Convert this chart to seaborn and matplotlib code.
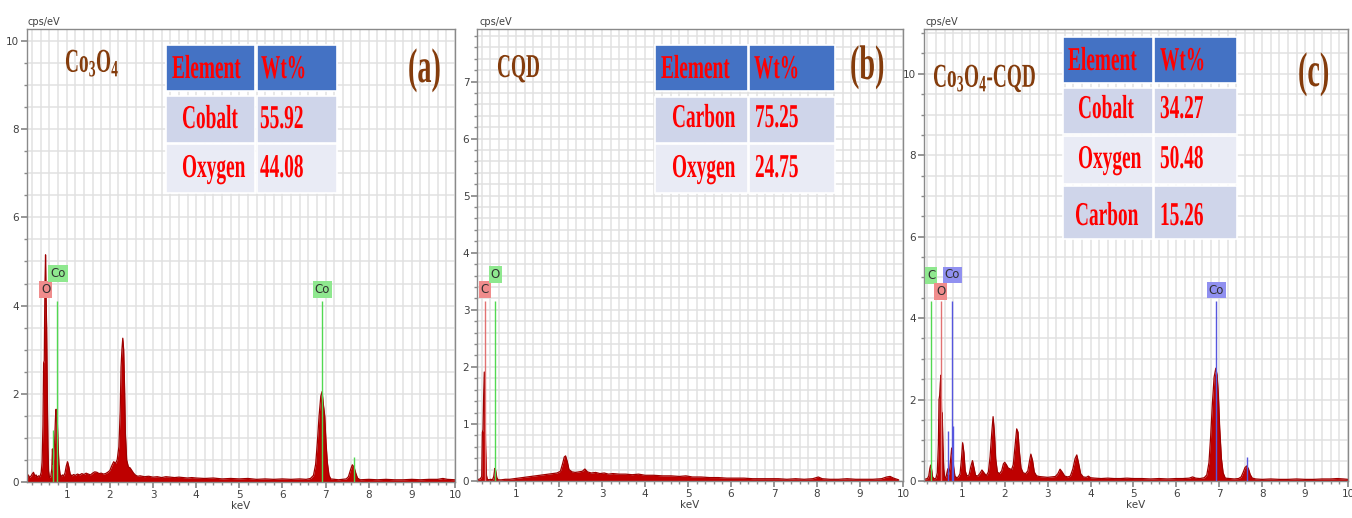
import matplotlib
matplotlib.use("Agg")
import matplotlib.pyplot as plt
import seaborn as sns
from matplotlib import patheffects
from matplotlib.transforms import Affine2D
from matplotlib.patches import Rectangle
from matplotlib.ticker import MultipleLocator

# ---------------- EDS spectra (energy in keV, intensity in cps/eV) ----------------
co3o4_kev = [0.08, 0.11, 0.14, 0.17, 0.20, 0.23, 0.26, 0.29, 0.32, 0.35, 0.38, 0.41, 0.43, 0.45, 0.465,
             0.48, 0.495, 0.51, 0.52, 0.535, 0.55, 0.565, 0.58, 0.60, 0.63, 0.655, 0.67, 0.685, 0.70, 0.72,
             0.74, 0.755, 0.77, 0.785, 0.80, 0.82, 0.845, 0.87, 0.90, 0.93, 0.96, 0.99, 1.02, 1.05, 1.08,
             1.12, 1.16, 1.20, 1.25, 1.30, 1.35, 1.40, 1.45, 1.50, 1.55, 1.60, 1.65, 1.70, 1.75, 1.80,
             1.85, 1.90, 1.95, 2.00, 2.05, 2.09, 2.13, 2.17, 2.21, 2.24, 2.26, 2.28, 2.30, 2.32, 2.34,
             2.36, 2.39, 2.43, 2.47, 2.51, 2.55, 2.60, 2.65, 2.70, 2.80, 2.90, 3.00, 3.10, 3.20, 3.30,
             3.40, 3.50, 3.60, 3.70, 3.80, 3.90, 4.00, 4.20, 4.40, 4.60, 4.80, 5.00, 5.20, 5.40, 5.60,
             5.80, 6.00, 6.20, 6.40, 6.55, 6.65, 6.72, 6.77, 6.81, 6.85, 6.89, 6.92, 6.95, 6.98, 7.01,
             7.04, 7.08, 7.12, 7.20, 7.30, 7.40, 7.48, 7.53, 7.58, 7.62, 7.66, 7.70, 7.74, 7.80, 8.00,
             8.20, 8.40, 8.60, 8.80, 9.00, 9.20, 9.40, 9.60, 9.72, 9.82, 10.0]
co3o4_cps = [0.08, 0.16, 0.10, 0.13, 0.18, 0.22, 0.14, 0.16, 0.11, 0.14, 0.12, 0.22, 0.45, 1.30, 2.70,
             2.75, 4.40, 5.15, 4.30, 3.50, 2.00, 0.80, 0.25, 0.10, 0.12, 0.30, 0.75, 0.40, 0.55, 0.90,
             1.45, 1.65, 1.40, 1.30, 0.85, 0.40, 0.18, 0.12, 0.16, 0.14, 0.20, 0.36, 0.46, 0.34, 0.18,
             0.14, 0.17, 0.15, 0.18, 0.16, 0.19, 0.17, 0.20, 0.18, 0.16, 0.20, 0.23, 0.22, 0.19, 0.20,
             0.18, 0.19, 0.22, 0.26, 0.38, 0.46, 0.42, 0.50, 0.80, 1.60, 2.60, 3.00, 3.26, 3.00, 2.20,
             1.10, 0.50, 0.34, 0.32, 0.26, 0.20, 0.15, 0.13, 0.14, 0.12, 0.13, 0.11, 0.12, 0.10, 0.12,
             0.11, 0.10, 0.11, 0.10, 0.09, 0.10, 0.09, 0.08, 0.09, 0.07, 0.08, 0.07, 0.08, 0.06, 0.07,
             0.06, 0.07, 0.06, 0.07, 0.06, 0.08, 0.15, 0.40, 0.90, 1.50, 1.95, 2.05, 1.75, 1.50, 0.90,
             0.45, 0.15, 0.07, 0.06, 0.05, 0.06, 0.07, 0.12, 0.28, 0.39, 0.34, 0.20, 0.09, 0.05, 0.06,
             0.05, 0.06, 0.05, 0.05, 0.06, 0.05, 0.06, 0.06, 0.08, 0.06, 0.05]

cqd_kev = [0.09, 0.13, 0.17, 0.20, 0.215, 0.23, 0.245, 0.26, 0.275, 0.29, 0.31, 0.33, 0.37, 0.41, 0.45,
           0.48, 0.505, 0.525, 0.55, 0.58, 0.65, 0.75, 0.85, 0.95, 1.05, 1.15, 1.25, 1.35, 1.45, 1.55,
           1.65, 1.75, 1.85, 1.95, 2.03, 2.08, 2.12, 2.15, 2.19, 2.23, 2.30, 2.38, 2.46, 2.54, 2.60,
           2.66, 2.75, 2.85, 2.95, 3.05, 3.15, 3.25, 3.40, 3.55, 3.70, 3.85, 4.00, 4.20, 4.40, 4.60,
           4.80, 4.95, 5.10, 5.30, 5.50, 5.70, 5.90, 6.10, 6.30, 6.50, 6.70, 6.90, 7.10, 7.30, 7.50,
           7.70, 7.90, 8.03, 8.12, 8.30, 8.50, 8.70, 8.90, 9.10, 9.30, 9.50, 9.62, 9.70, 9.78, 9.90]
cqd_cps = [0.02, 0.03, 0.04, 0.08, 0.85, 0.90, 1.50, 1.91, 1.48, 0.60, 0.10, 0.03, 0.02, 0.03, 0.02,
           0.08, 0.22, 0.18, 0.06, 0.02, 0.02, 0.03, 0.03, 0.04, 0.05, 0.06, 0.07, 0.08, 0.09, 0.10,
           0.11, 0.12, 0.13, 0.14, 0.17, 0.30, 0.42, 0.44, 0.34, 0.20, 0.16, 0.15, 0.16, 0.17, 0.21,
           0.16, 0.14, 0.15, 0.13, 0.14, 0.12, 0.13, 0.12, 0.12, 0.11, 0.12, 0.10, 0.10, 0.09, 0.09,
           0.08, 0.09, 0.07, 0.07, 0.06, 0.06, 0.05, 0.05, 0.05, 0.04, 0.04, 0.04, 0.04, 0.03, 0.04,
           0.03, 0.04, 0.07, 0.04, 0.03, 0.03, 0.04, 0.03, 0.03, 0.03, 0.04, 0.07, 0.08, 0.05, 0.02]

hybrid_kev = [0.12, 0.16, 0.20, 0.23, 0.255, 0.275, 0.295, 0.32, 0.36, 0.40, 0.43, 0.455, 0.47, 0.485,
              0.50, 0.515, 0.53, 0.545, 0.56, 0.58, 0.60, 0.63, 0.655, 0.675, 0.695, 0.72, 0.745, 0.765,
              0.785, 0.81, 0.84, 0.88, 0.92, 0.96, 0.99, 1.02, 1.05, 1.08, 1.12, 1.17, 1.21, 1.25, 1.28,
              1.32, 1.37, 1.42, 1.47, 1.52, 1.57, 1.62, 1.66, 1.70, 1.73, 1.76, 1.79, 1.83, 1.88, 1.93,
              1.97, 2.00, 2.04, 2.08, 2.12, 2.16, 2.20, 2.24, 2.28, 2.31, 2.34, 2.38, 2.43, 2.49, 2.54,
              2.58, 2.61, 2.65, 2.69, 2.74, 2.80, 2.90, 3.00, 3.10, 3.18, 3.24, 3.29, 3.34, 3.40, 3.47,
              3.53, 3.59, 3.64, 3.68, 3.72, 3.77, 3.83, 3.90, 3.95, 4.00, 4.10, 4.25, 4.40, 4.55, 4.70,
              4.85, 5.00, 5.20, 5.40, 5.60, 5.80, 6.00, 6.15, 6.30, 6.38, 6.45, 6.55, 6.65, 6.71, 6.76,
              6.80, 6.84, 6.88, 6.92, 6.95, 6.98, 7.01, 7.05, 7.09, 7.14, 7.25, 7.35, 7.45, 7.51, 7.56,
              7.60, 7.64, 7.68, 7.72, 7.77, 7.85, 8.00, 8.20, 8.40, 8.60, 8.80, 9.00, 9.20, 9.40, 9.60,
              9.75, 9.90, 10.0]
hybrid_cps = [0.04, 0.05, 0.06, 0.12, 0.30, 0.39, 0.30, 0.10, 0.05, 0.07, 0.20, 0.90, 2.00, 2.10,
              2.40, 2.60, 1.70, 1.67, 0.90, 0.30, 0.10, 0.08, 0.20, 0.30, 0.15, 0.30, 0.60, 0.81,
              0.65, 0.35, 0.12, 0.08, 0.10, 0.18, 0.50, 0.94, 0.70, 0.25, 0.12, 0.15, 0.35, 0.50, 0.35,
              0.14, 0.12, 0.18, 0.27, 0.20, 0.13, 0.22, 0.60, 1.20, 1.58, 1.20, 0.55, 0.22, 0.18, 0.25,
              0.42, 0.46, 0.40, 0.32, 0.30, 0.28, 0.40, 0.85, 1.28, 1.20, 0.75, 0.32, 0.20, 0.18, 0.25,
              0.50, 0.66, 0.50, 0.22, 0.13, 0.11, 0.10, 0.09, 0.10, 0.11, 0.18, 0.29, 0.22, 0.12, 0.10,
              0.12, 0.30, 0.55, 0.64, 0.45, 0.18, 0.10, 0.09, 0.12, 0.08, 0.07, 0.06, 0.07, 0.06, 0.06,
              0.07, 0.06, 0.06, 0.05, 0.06, 0.05, 0.06, 0.06, 0.07, 0.10, 0.07, 0.06, 0.08, 0.15, 0.45,
              1.10, 1.90, 2.55, 2.77, 2.60, 2.10, 1.30, 0.55, 0.20, 0.07, 0.06, 0.05, 0.06, 0.10, 0.22,
              0.33, 0.37, 0.30, 0.16, 0.07, 0.05, 0.04, 0.05, 0.04, 0.04, 0.05, 0.04, 0.04, 0.05, 0.05,
              0.06, 0.05, 0.04]

# ---------------- element line markers ----------------
co3o4_line_kev = [0.678, 0.776, 6.925, 7.649]
co3o4_line_top = [1.18, 4.11, 4.11, 0.57]
co3o4_line_el = ["Co", "Co", "Co", "Co"]
co3o4_tag_el = ["O", "Co", "Co"]
co3o4_tag_kev = [0.51, 0.80, 6.925]
co3o4_tag_y = [4.36, 4.72, 4.37]

cqd_line_kev = [0.27, 0.52]
cqd_line_top = [3.16, 3.16]
cqd_line_el = ["C", "O"]
cqd_tag_el = ["C", "O"]
cqd_tag_kev = [0.27, 0.52]
cqd_tag_y = [3.35, 3.62]

hybrid_line_kev = [0.28, 0.51, 0.67, 0.78, 0.79, 6.93, 7.65]
hybrid_line_top = [4.43, 4.43, 1.23, 4.43, 1.35, 4.43, 0.60]
hybrid_line_el = ["C", "O", "Co", "Co", "Co", "Co", "Co"]
hybrid_tag_el = ["C", "O", "Co", "Co"]
hybrid_tag_kev = [0.29, 0.51, 0.78, 6.93]
hybrid_tag_y = [5.04, 4.66, 5.06, 4.69]

# ---------------- composition tables ----------------
co3o4_elements = ["Cobalt", "Oxygen"]
co3o4_wt = ["55.92", "44.08"]
cqd_elements = ["Carbon", "Oxygen"]
cqd_wt = ["75.25", "24.75"]
hybrid_elements = ["Cobalt", "Oxygen", "Carbon"]
hybrid_wt = ["34.27", "50.48", "15.26"]

# ---------------- styling ----------------
sns.set_theme(style="white")
plt.rcParams["font.family"] = ["DejaVu Sans"]
plt.rcParams["mathtext.fontset"] = "custom"
plt.rcParams["mathtext.rm"] = "Liberation Serif:bold"
plt.rcParams["mathtext.default"] = "regular"

FILL = "#BE0000"
EDGE = "#9E0000"
GRID = "#E1E1E1"
SPINE = "#8A8A8A"
BROWN = "#843C0C"
TXTRED = "#FF0000"
HEAD = "#4472C4"
ROW_DARK = "#CFD5EA"
ROW_LIGHT = "#E9EBF5"

GREEN = ("#52D852", "#8FE88F")
PINK = ("#E27272", "#F08C8C")
BLUE = ("#5656DE", "#9090F0")

# tall, narrow serif lettering: glyphs are stretched vertically about the baseline
NARROW = 0.58


class TallGlyphs(patheffects.AbstractPathEffect):
    def __init__(self, sy):
        super().__init__()
        self._sy = sy

    def draw_path(self, renderer, gc, tpath, affine, rgbFace=None):
        renderer.draw_path(gc, tpath, Affine2D().scale(1.0, self._sy) + affine, rgbFace)


TALL = [TallGlyphs(1.0 / NARROW)]

W, H = 1352, 518
fig = plt.figure(figsize=(W / 100, H / 100), dpi=100)
fig.patch.set_facecolor("white")


def px_axes(left, right, top, bottom):
    return fig.add_axes([left / W, (H - bottom) / H, (right - left) / W, (bottom - top) / H])


def spectrum_panel(ax, kev, cps, xmin, ymax, ymajor, yminor):
    ax.set_axisbelow(True)
    ax.fill_between(kev, cps, 0, color=FILL, lw=0, zorder=2)
    sns.lineplot(x=kev, y=cps, ax=ax, color=EDGE, lw=0.9, zorder=2.5, estimator=None)
    ax.set_xlim(xmin, 10)
    ax.set_ylim(0, ymax)
    ax.xaxis.set_major_locator(MultipleLocator(1))
    ax.xaxis.set_minor_locator(MultipleLocator(0.2))
    ax.yaxis.set_major_locator(MultipleLocator(ymajor))
    ax.yaxis.set_minor_locator(MultipleLocator(yminor))
    ax.grid(which="both", color=GRID, lw=1.1)
    for s in ax.spines.values():
        s.set_color(SPINE)
        s.set_linewidth(1.0)
    ax.tick_params(which="both", direction="out", color=SPINE, labelsize=7.5,
                   labelcolor="#404040", pad=1.5, bottom=True, left=True)
    ax.tick_params(which="major", length=4)
    ax.tick_params(which="minor", length=2.5)
    ax.set_xlabel("keV", fontsize=7.5, color="#404040", labelpad=1)
    ax.set_ylabel("")


def markers(ax, kevs, tops, els, colmap):
    for k, t, e in zip(kevs, tops, els):
        ax.vlines(k, 0, t, color=colmap[e][0], lw=1.0, zorder=3)


def tags(ax, kevs, ys, els, colmap):
    for k, y, e in zip(kevs, ys, els):
        ax.text(k, y, e, ha="center", va="center", fontsize=8.5, color="#303030", zorder=4,
                bbox=dict(boxstyle="square,pad=0.16", fc=colmap[e][1], ec="none"))


# panel (a): Co3O4
ax_a = px_axes(27, 455, 29, 482)
spectrum_panel(ax_a, co3o4_kev, co3o4_cps, 0.08, 10.27, 2, 0.5)
cmap_a = {"O": PINK, "Co": GREEN}
markers(ax_a, co3o4_line_kev, co3o4_line_top, co3o4_line_el, cmap_a)
tags(ax_a, co3o4_tag_kev, co3o4_tag_y, co3o4_tag_el, cmap_a)

# panel (b): CQD
ax_b = px_axes(477, 903, 29, 481)
spectrum_panel(ax_b, cqd_kev, cqd_cps, 0.09, 7.92, 1, 0.2)
cmap_b = {"C": PINK, "O": GREEN}
markers(ax_b, cqd_line_kev, cqd_line_top, cqd_line_el, cmap_b)
tags(ax_b, cqd_tag_kev, cqd_tag_y, cqd_tag_el, cmap_b)

# panel (c): Co3O4-CQD
ax_c = px_axes(924, 1348, 29, 481)
spectrum_panel(ax_c, hybrid_kev, hybrid_cps, 0.12, 11.1, 2, 0.5)
cmap_c = {"C": GREEN, "O": PINK, "Co": BLUE}
markers(ax_c, hybrid_line_kev, hybrid_line_top, hybrid_line_el, cmap_c)
tags(ax_c, hybrid_tag_kev, hybrid_tag_y, hybrid_tag_el, cmap_c)

# overlay in pixel coordinates for titles and composition tables
ov = fig.add_axes([0, 0, 1, 1], zorder=10)
ov.set_xlim(0, W)
ov.set_ylim(H, 0)
ov.axis("off")
ov.patch.set_facecolor("none")


def serif(x, y, s, size, color):
    ov.text(x, y, s, fontsize=size * NARROW, color=color, ha="left", va="baseline",
            family="Liberation Serif", weight="bold", path_effects=TALL)


def table(cols, rows, fills, left_x, baselines, right_x, elements, wt):
    for (top, bot), fc in zip(rows, fills):
        for (l, r) in cols:
            ov.add_patch(Rectangle((l, top), r - l, bot - top, fc=fc, ec="white", lw=1.2))
    serif(left_x[0], baselines[0], "Element", 24, TXTRED)
    serif(right_x[0], baselines[0], "Wt%", 24, TXTRED)
    for x, base, el in zip(left_x[1:], baselines[1:], elements):
        serif(x, base, el, 24, TXTRED)
    for base, v in zip(baselines[1:], wt):
        serif(right_x[1], base, v, 24, TXTRED)


for x in (28, 479, 926):
    ov.text(x, 25, "cps/eV", fontsize=7, color="#404040", ha="left", va="baseline")

# (a)
serif(65, 72, "Co$_3$O$_4$", 24, BROWN)
serif(408, 82, "(a)", 35, BROWN)
table(cols=[(166, 255), (257, 337)],
      rows=[(45, 91), (96, 143), (144, 193)],
      fills=[HEAD, ROW_DARK, ROW_LIGHT],
      left_x=[172, 182, 182], baselines=[78, 128, 177], right_x=(261, 260),
      elements=co3o4_elements, wt=co3o4_wt)

# (b)
serif(497, 77, "CQD", 24, BROWN)
serif(850, 79, "(b)", 35, BROWN)
table(cols=[(655, 748), (749, 835)],
      rows=[(45, 91), (97, 143), (144, 193)],
      fills=[HEAD, ROW_DARK, ROW_LIGHT],
      left_x=[661, 672, 672], baselines=[78, 127, 177], right_x=(754, 755),
      elements=cqd_elements, wt=cqd_wt)

# (c)
serif(933, 87, "Co$_3$O$_4$-CQD", 24, BROWN)
serif(1298, 86, "(c)", 35, BROWN)
table(cols=[(1063, 1153), (1154, 1237)],
      rows=[(37, 83), (88, 134), (136, 184), (186, 239)],
      fills=[HEAD, ROW_DARK, ROW_LIGHT, ROW_DARK],
      left_x=[1068, 1078, 1078, 1075], baselines=[70, 118, 168, 225], right_x=(1160, 1160),
      elements=hybrid_elements, wt=hybrid_wt)

fig.savefig("out.png", dpi=100)
